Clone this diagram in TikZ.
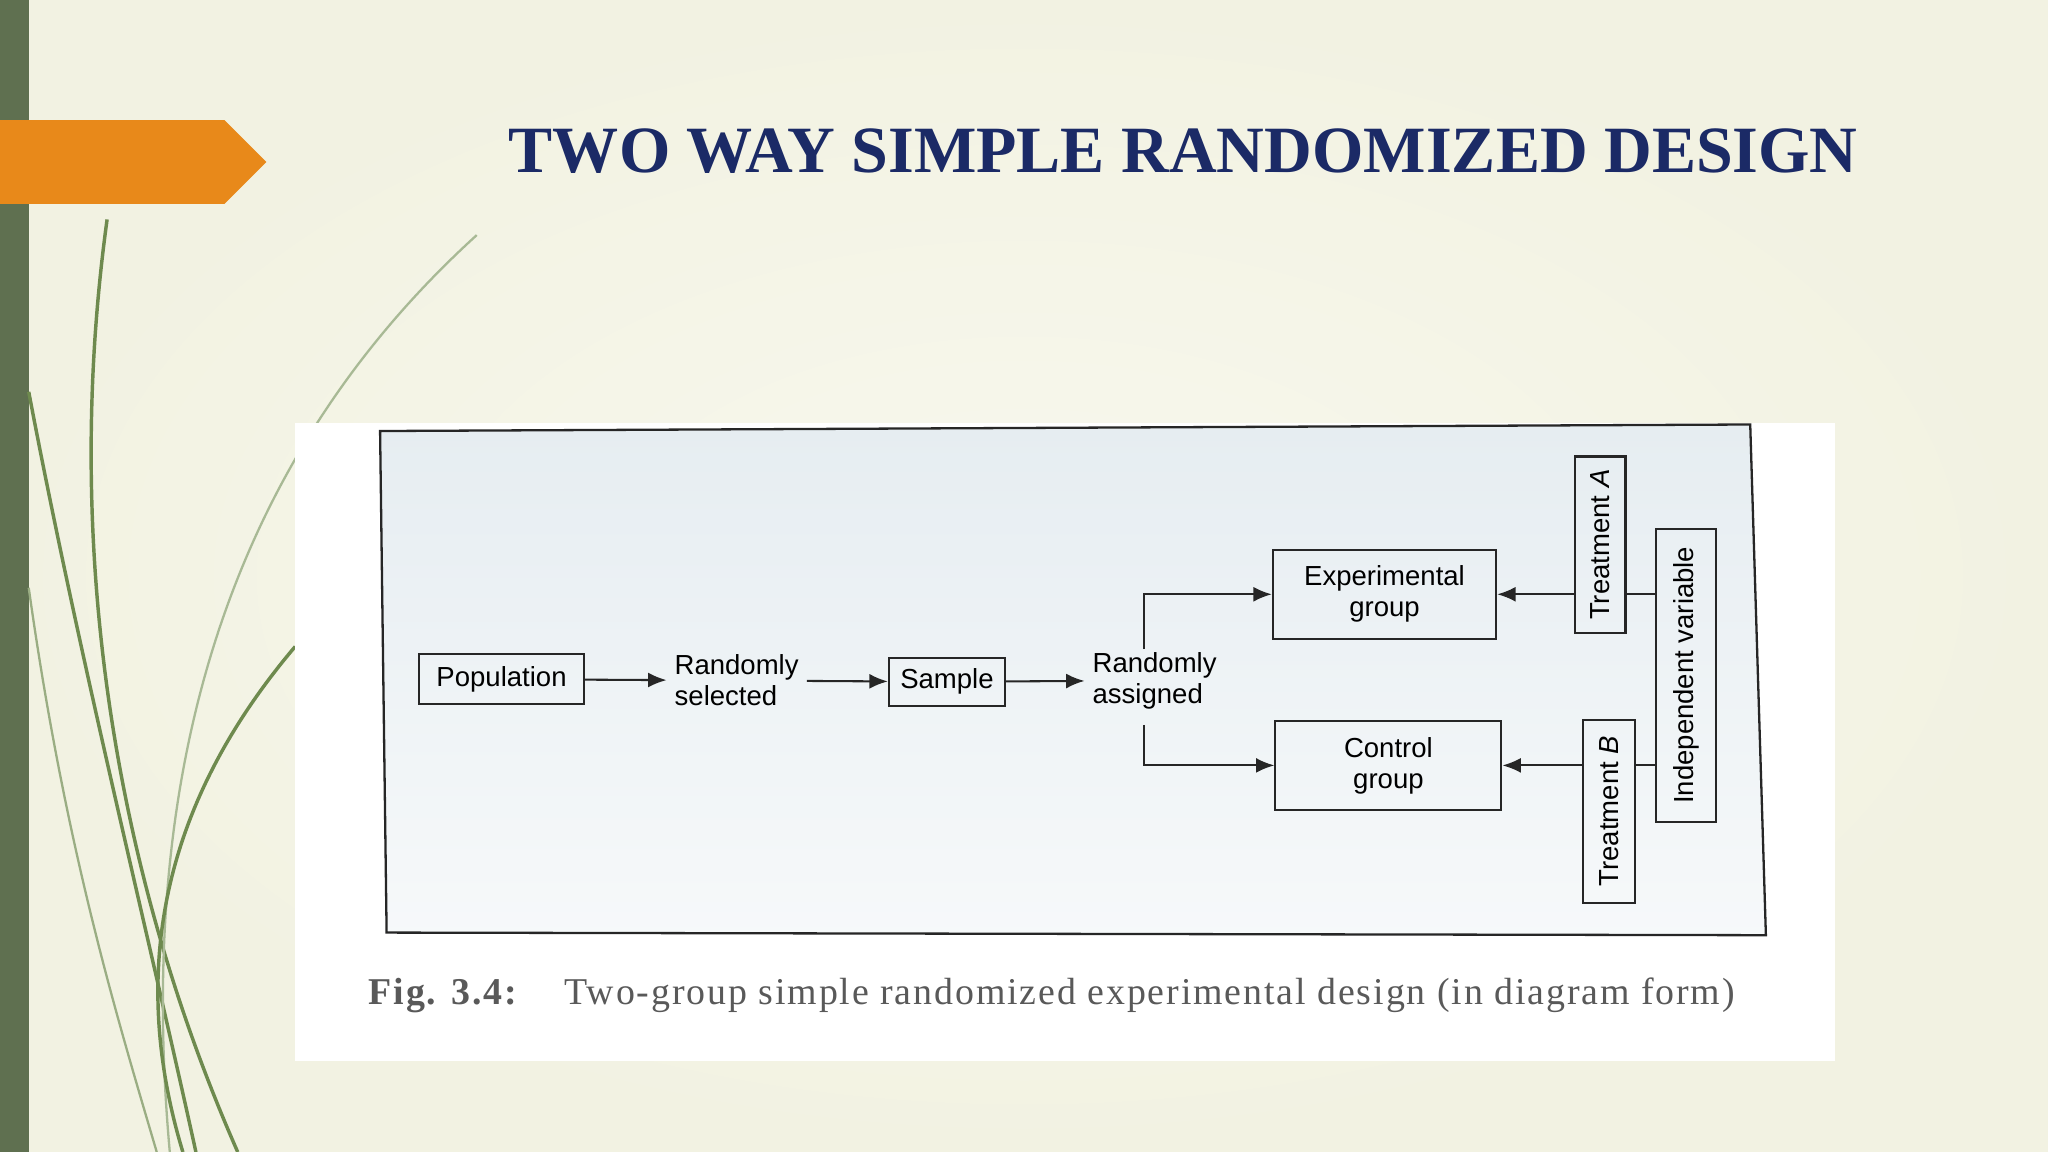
\documentclass[tikz,border=0pt]{standalone}
\usepackage{fontspec}
\setmainfont{Liberation Serif}
\newfontfamily\diag{Liberation Sans}
\newfontfamily\capf[LetterSpace=5]{Liberation Serif}
\usetikzlibrary{arrows.meta}
\definecolor{bgc}{HTML}{F2F2E2}
\definecolor{bgl}{HTML}{F8F8EE}
\definecolor{barg}{HTML}{5F7050}
\definecolor{orng}{HTML}{E8891A}
\definecolor{navy}{HTML}{1B2A66}
\definecolor{frame}{HTML}{E6EDF1}
\definecolor{leaf}{HTML}{6E8A4E}
\begin{document}
\begin{tikzpicture}[x=0.02cm,y=-0.02cm,
  bx/.style={draw=black!85,line width=0.9pt,inner sep=0pt,font=\diag\fontsize{12}{13.5}\selectfont,align=center},
  tx/.style={font=\diag\fontsize{12}{13.5}\selectfont,align=left},
  ar/.style={-{Latex[length=8pt,width=6.5pt]},line width=0.9pt,black!85},
  ln/.style={line width=0.9pt,black!85}]
\useasboundingbox (0,0) rectangle (1568,882);
\shade[inner color=bgl,outer color=bgc] (0,0) rectangle (1568,882);
\fill[barg] (0,0) rectangle (22,882);
\fill[orng] (0,92) -- (172,92) -- (204,124) -- (172,156) -- (0,156) -- cycle;
% leaves
\draw[leaf,line width=1.5pt] (82,168) .. controls (50,400) and (80,650) .. (182,882);
\draw[leaf,line width=1.5pt] (22,300) .. controls (60,500) and (110,700) .. (150,882);
\draw[leaf!70,line width=1pt] (22,450) .. controls (50,650) and (90,780) .. (120,882);
\draw[leaf!60,line width=1pt] (365,180) .. controls (200,330) and (100,550) .. (130,882);
\draw[leaf,line width=1.5pt] (226,495) .. controls (120,620) and (100,750) .. (140,882);
\node[font=\bfseries\fontsize{28.8}{32}\selectfont,text=navy] (title) at (906,116) {TWO WAY SIMPLE RANDOMIZED DESIGN};
% image
\fill[white] (226,324) rectangle (1405,812);
\shade[top color=frame,bottom color=frame!35!white,draw=black!85,line width=1pt] (291,330) -- (1340,325) -- (1352,716) -- (296,714) -- cycle;
\node[bx,minimum width={126*0.02cm},minimum height={38*0.02cm}] (pop) at (384,520) {Population};
\node[tx] (rs) at (564,521) {Randomly\\selected};
\node[bx,minimum width={89*0.02cm},minimum height={37*0.02cm}] (sam) at (725,522) {Sample};
\node[tx] (ra) at (884,521) {Randomly\\assigned};
\node[bx,minimum width={171*0.02cm},minimum height={68*0.02cm}] (exp) at (1060,455) {Experimental\\group};
\node[bx,minimum width={173*0.02cm},minimum height={68*0.02cm}] (con) at (1063,586) {Control\\group};
\node[bx,rotate=90,minimum width={135*0.02cm},minimum height={39*0.02cm}] (ta) at (1225,417) {Treatment \textit{A}};
\node[bx,rotate=90,minimum width={140*0.02cm},minimum height={40*0.02cm}] (tb) at (1232,621) {Treatment \textit{B}};
\node[bx,rotate=90,minimum width={224*0.02cm},minimum height={46*0.02cm}] (iv) at (1291,517) {Independent variable};
\draw[ar] (pop) -- (rs);
\draw[ar] (rs) -- (sam);
\draw[ar] (sam) -- (ra);
\coordinate (a1) at (876,497);
\coordinate (a2) at (876,555);
\draw[ar] (a1) |- (exp.west);
\draw[ar] (a2) |- (con.west);
\draw[ar] (ta.north |- exp.east) -- (exp.east);
\draw[ar] (tb.north |- con.east) -- (con.east);
\draw[ln] (iv.north |- exp.east) -- (ta.south |- exp.east);
\draw[ln] (iv.north |- con.east) -- (tb.south |- con.east);
\node[anchor=west,text=black!65,font=\capf\fontsize{16.5}{18}\selectfont] (cap) at (276,762) {\textbf{Fig. 3.4:}\hspace{1.2em}Two-group simple randomized experimental design (in diagram form)};
\end{tikzpicture}
\end{document}
